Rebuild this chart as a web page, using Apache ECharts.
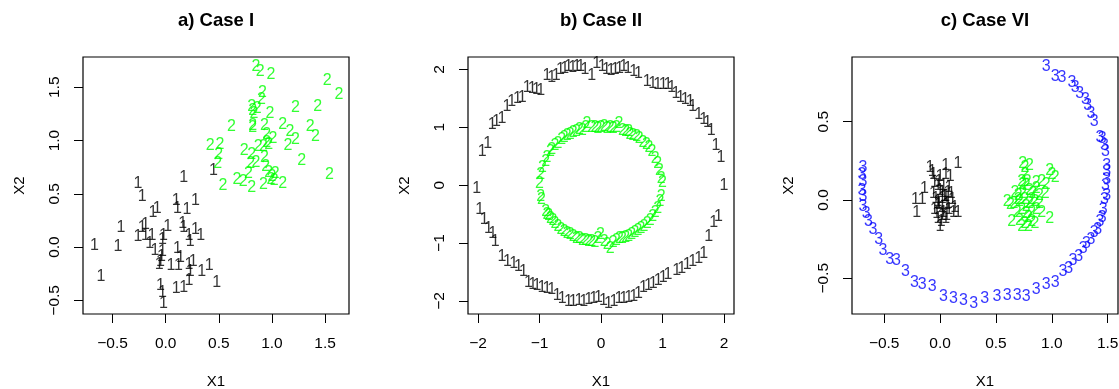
<!DOCTYPE html>
<html>
<head>
<meta charset="utf-8">
<script src="https://cdn.jsdelivr.net/npm/echarts@6/dist/echarts.min.js"></script>
<style>
  html, body { margin: 0; padding: 0; background: #fff; }
  #main { width: 1119px; height: 389px; }
</style>
</head>
<body>
<div id="main"></div>
<script>
// panel titles
const titles = ['a) Case I', 'b) Case II', 'c) Case VI'];

// tick values per panel
const ticksI_x = [-0.5, 0, 0.5, 1, 1.5];
const ticksI_y = [-0.5, 0, 0.5, 1, 1.5];
const ticksII_x = [-2, -1, 0, 1, 2];
const ticksII_y = [-2, -1, 0, 1, 2];
const ticksVI_x = [-0.5, 0, 0.5, 1, 1.5];
const ticksVI_y = [-0.5, 0, 0.5];

// a) Case I
const caseI_class1 = [
  [-0.26,0.60],[-0.22,0.47],[0.17,0.65],[0.45,0.72],[-0.12,0.32],[-0.08,0.36],[0.10,0.44],[0.11,0.36],
  [0.20,0.35],[0.28,0.44],[-0.42,0.18],[-0.67,0.01],[-0.45,0.00],[-0.61,-0.28],
  [-0.26,0.10],[-0.22,0.18],[-0.19,0.21],[-0.19,0.11],[-0.13,0.11],[-0.15,0.03],[-0.10,-0.03],
  [-0.02,0.11],[-0.03,0.07],[-0.03,-0.04],[-0.04,-0.09],[-0.05,-0.14],[-0.06,-0.16],
  [0.02,0.19],[0.11,-0.01],[0.05,-0.17],[0.12,-0.17],[0.14,-0.10],
  [0.16,0.22],[0.17,0.18],[0.22,0.11],[0.23,0.05],[0.28,0.16],[0.33,0.11],
  [0.22,-0.16],[0.23,-0.23],[0.26,-0.14],[0.34,-0.23],[0.41,-0.17],[0.48,-0.33],
  [-0.05,-0.36],[-0.03,-0.43],[-0.02,-0.53],[0.10,-0.39],[0.17,-0.38],[0.22,-0.31]
];
const caseI_class2 = [
  [0.85,1.69],[0.89,1.65],[0.99,1.62],[1.52,1.56],[1.63,1.43],[0.91,1.45],[0.90,1.38],
  [0.81,1.32],[0.82,1.28],[0.83,1.25],[0.86,1.30],[0.98,1.25],[1.22,1.31],[1.43,1.32],
  [0.62,1.13],[0.82,1.14],[0.82,1.12],[0.93,1.14],[0.95,1.06],[1.10,1.15],[1.17,1.08],
  [1.22,1.01],[1.36,1.13],[1.41,1.04],[1.01,1.02],[0.95,0.98],[1.15,0.95],
  [0.42,0.95],[0.51,0.96],[0.50,0.87],[0.49,0.78],[0.74,0.91],[0.81,0.87],[0.87,0.94],
  [0.92,0.94],[0.97,0.96],[0.93,0.84],[0.80,0.78],[0.85,0.79],[0.94,0.76],[0.78,0.69],
  [0.97,0.70],[1.00,0.66],[1.03,0.69],[0.99,0.63],[1.28,0.81],[1.54,0.68],
  [0.54,0.58],[0.67,0.63],[0.73,0.61],[0.81,0.56],[0.92,0.59],[1.02,0.62],[1.10,0.60]
];

// b) Case II
const caseII_class1 = [
  [-2.02,-0.06],[-1.93,0.58],[-1.84,0.72],[-1.77,1.04],[-1.70,1.09],[-1.61,1.15],[-1.53,1.35],
  [-1.45,1.44],[-1.36,1.50],[-1.28,1.52],[-1.20,1.69],[-1.12,1.67],[-1.05,1.65],[-0.98,1.64],
  [-0.88,1.90],[-0.80,1.86],[-0.73,1.90],[-0.66,1.99],[-0.59,2.01],[-0.53,2.04],[-0.46,2.03],
  [-0.39,2.05],[-0.33,2.04],[-0.26,2.00],[-0.15,1.90],[-0.07,2.10],[0.02,2.04],[0.09,2.00],
  [0.16,1.98],[0.23,1.99],[0.30,2.01],[0.37,2.04],[0.44,2.01],[0.53,1.96],[0.61,1.92],
  [0.75,1.78],[0.84,1.76],[0.92,1.74],[1.01,1.74],[1.09,1.73],[1.15,1.69],[1.22,1.58],
  [1.29,1.51],[1.37,1.47],[1.45,1.44],[1.49,1.35],[1.59,1.21],[1.67,1.13],[1.73,1.08],
  [1.79,0.94],[1.87,0.69],[1.95,0.48],[2.00,0.00],[1.91,-0.54],[1.83,-0.65],[1.75,-0.89],
  [1.67,-1.19],[1.59,-1.27],[1.49,-1.32],[1.40,-1.38],[1.31,-1.44],[1.23,-1.48],[1.09,-1.54],
  [1.01,-1.59],[0.93,-1.65],[0.85,-1.70],[0.77,-1.74],[0.69,-1.77],[0.61,-1.87],[0.53,-1.93],
  [0.45,-1.95],[0.37,-1.96],[0.29,-1.96],[0.21,-2.01],[0.12,-2.04],[0.04,-1.99],[-0.04,-1.95],
  [-0.12,-1.96],[-0.20,-1.97],[-0.28,-2.01],[-0.36,-1.99],[-0.45,-2.01],[-0.53,-2.01],[-0.63,-1.96],
  [-0.71,-1.90],[-0.80,-1.81],[-0.88,-1.78],[-0.96,-1.77],[-1.04,-1.74],[-1.11,-1.71],[-1.18,-1.69],
  [-1.26,-1.49],[-1.34,-1.41],[-1.42,-1.35],[-1.52,-1.32],[-1.61,-1.24],[-1.72,-0.98],[-1.76,-0.84],
  [-1.83,-0.75],[-1.90,-0.60],[-1.97,-0.43]
];
const caseII_class2 = [
  [0.62,0.80],[0.68,0.74],[0.74,0.70],[0.58,0.83],[0.52,0.86],[0.47,0.88],[0.40,0.92],[0.35,0.95],
  [0.29,1.06],[0.25,0.99],[0.20,0.97],[0.15,1.00],[0.10,0.98],[0.05,1.01],[0.00,0.99],[-0.05,0.97],
  [-0.10,1.00],[-0.15,0.99],[-0.23,1.06],[-0.25,1.00],[-0.30,0.95],[-0.35,0.96],[-0.40,0.93],
  [-0.45,0.90],[-0.50,0.88],[-0.55,0.85],[-0.60,0.82],[-0.64,0.78],[-0.70,0.72],[-0.75,0.68],
  [-0.80,0.62],[0.78,0.65],[0.83,0.58],[-0.82,0.58],[0.45,0.93],
  [-0.88,0.47],[-0.90,0.40],[-0.95,0.30],[-0.98,0.18],[-1.00,0.02],[-0.98,-0.20],[-0.97,-0.25],
  [-0.90,-0.45],[-0.88,-0.50],
  [0.88,0.45],[0.92,0.38],[0.95,0.25],[0.98,0.12],[1.00,0.05],[0.98,-0.20],[0.96,-0.28],
  [0.92,-0.40],[0.88,-0.48],
  [-0.85,-0.52],[-0.82,-0.57],[-0.78,-0.62],[-0.75,-0.66],[-0.70,-0.72],[-0.65,-0.76],[-0.60,-0.80],
  [-0.55,-0.83],[-0.50,-0.86],[-0.45,-0.88],[-0.40,-0.92],[-0.35,-0.93],[-0.30,-0.95],[-0.25,-0.96],
  [-0.20,-0.98],[-0.15,-0.97],[-0.10,-0.99],[-0.05,-0.93],[-0.01,-0.86],[0.05,-0.98],[0.10,-1.02],
  [0.15,-1.09],[0.20,-1.00],[0.25,-0.96],[0.30,-0.93],[0.35,-0.92],[0.40,-0.90],[0.45,-0.88],
  [0.50,-0.85],[0.55,-0.82],[0.60,-0.78],[0.65,-0.75],[0.70,-0.72],[0.75,-0.67],[0.80,-0.62],
  [0.84,-0.55]
];

// c) Case VI
const caseVI_class1 = [
  [-0.09,0.21],[-0.07,0.18],[-0.06,0.16],[0.05,0.22],[0.16,0.23],[0.00,0.15],[0.05,0.16],[0.09,0.15],
  [-0.05,0.11],[-0.02,0.09],[0.00,0.06],[0.02,0.05],[-0.14,0.07],[-0.22,0.00],[-0.16,0.00],
  [-0.21,-0.08],[-0.06,0.04],[-0.04,0.01],[-0.02,-0.01],[0.02,0.01],[0.05,0.02],[0.07,0.05],
  [0.08,0.08],[0.10,0.04],[0.11,0.00],[-0.01,-0.03],[0.02,-0.05],[0.03,-0.08],[0.06,-0.03],
  [0.08,-0.06],[0.12,-0.08],[0.13,-0.05],[0.16,-0.08],[-0.02,-0.12],[0.01,-0.14],[0.05,-0.12],
  [0.06,-0.10],[-0.03,-0.09],[-0.05,-0.06],[-0.01,0.12],[0.03,0.09],[0.07,-0.02],[0.02,-0.10],
  [-0.02,-0.02],[0.04,0.02],[0.00,-0.17]
];
const caseVI_class2 = [
  [0.74,0.23],[0.76,0.21],[0.80,0.22],[0.98,0.19],[1.00,0.16],[1.03,0.14],[0.76,0.16],
  [0.86,0.11],[0.91,0.12],[0.95,0.10],[0.73,0.12],[0.74,0.10],[0.77,0.09],[0.80,0.06],
  [0.83,0.04],[0.89,0.03],[0.94,0.04],[0.67,0.05],[0.70,0.03],[0.74,0.04],[0.60,-0.01],
  [0.63,-0.03],[0.66,-0.02],[0.71,-0.01],[0.76,0.00],[0.80,-0.02],[0.85,-0.01],[0.89,-0.02],
  [0.86,-0.06],[0.91,-0.08],[0.98,-0.12],[0.69,-0.08],[0.73,-0.06],[0.77,-0.09],[0.82,-0.08],
  [0.64,-0.14],[0.71,-0.13],[0.76,-0.15],[0.82,-0.14],[0.73,-0.17],[0.79,-0.17],[0.85,-0.15],
  [0.78,0.12],[0.82,0.00],[0.77,-0.04],[0.86,0.07],[0.70,0.00],[0.79,-0.11]
];
const caseVI_class3 = [
  [0.95,0.85],[1.03,0.79],[1.09,0.78],[1.18,0.75],[1.21,0.72],[1.25,0.68],[1.30,0.64],[1.32,0.60],
  [1.35,0.55],[1.38,0.50],[1.43,0.40],[1.45,0.39],[1.47,0.35],[1.48,0.31],[1.49,0.22],[1.49,0.18],
  [1.49,0.13],[1.48,0.09],[1.49,0.03],[1.47,0.00],[1.46,-0.06],[1.45,-0.11],[1.43,-0.14],[1.41,-0.19],
  [1.38,-0.21],[1.35,-0.25],[1.31,-0.28],[1.28,-0.31],[1.24,-0.36],[1.19,-0.39],[1.15,-0.44],
  [1.10,-0.46],[1.03,-0.53],[0.95,-0.54],[0.86,-0.57],[0.77,-0.62],[0.69,-0.61],[0.60,-0.61],
  [0.51,-0.62],[0.40,-0.63],[0.30,-0.66],[0.21,-0.64],[0.12,-0.63],[0.03,-0.62],[-0.07,-0.55],
  [-0.16,-0.54],[-0.23,-0.53],[-0.31,-0.46],[-0.39,-0.39],[-0.45,-0.38],[-0.51,-0.32],[-0.55,-0.25],
  [-0.60,-0.19],[-0.64,-0.14],[-0.66,-0.09],[-0.69,-0.04],[-0.69,0.02],[-0.70,0.06],[-0.69,0.12],
  [-0.70,0.16],[-0.69,0.21]
];

const FONT = 'Liberation Sans, Arial, Helvetica, sans-serif';
const GREEN = '#00ff00';
const BLUE = '#0000ff';

const panels = [
  { left: 83, xMin: -0.778, xMax: 1.725, yMin: -0.628, yMax: 1.784, xt: ticksI_x, yt: ticksI_y, dec: 1 },
  { left: 468, xMin: -2.162, xMax: 2.162, yMin: -2.225, yMax: 2.213, xt: ticksII_x, yt: ticksII_y, dec: 0 },
  { left: 852, xMin: -0.788, xMax: 1.592, yMin: -0.728, yMax: 0.913, xt: ticksVI_x, yt: ticksVI_y, dec: 1 }
];

const fmt = dec => v => (v < 0 ? '\u2212' : '') + Math.abs(v).toFixed(dec);

const textSeries = (idx, data, txt, color) => ({
  type: 'scatter',
  xAxisIndex: idx,
  yAxisIndex: idx,
  data: data,
  symbol: 'circle',
  symbolSize: 1,
  silent: true,
  itemStyle: { color: 'rgba(0,0,0,0)' },
  label: {
    show: true,
    position: 'inside',
    formatter: txt,
    color: color,
    fontSize: 16,
    fontFamily: FONT
  }
});

const chart = echarts.init(document.getElementById('main'), null, { renderer: 'canvas' });

chart.setOption({
  animation: false,
  backgroundColor: '#fff',
  title: titles.map((t, i) => ({
    text: t,
    left: panels[i].left + 128,
    top: 6,
    textAlign: 'center',
    textStyle: { fontSize: 18.5, fontWeight: 'bold', color: '#000', fontFamily: FONT }
  })),
  grid: panels.map(p => ({
    left: p.left, top: 57, width: 266, height: 257,
    show: true, borderColor: '#000', borderWidth: 1.2, backgroundColor: 'transparent',
    containLabel: false, outerBoundsMode: 'none'
  })),
  xAxis: panels.map((p, i) => ({
    gridIndex: i, type: 'value', min: p.xMin, max: p.xMax,
    axisLine: { show: false, onZero: false },
    splitLine: { show: false },
    axisTick: { show: true, length: 9, customValues: p.xt, lineStyle: { color: '#000', width: 1 } },
    axisLabel: { customValues: p.xt, formatter: fmt(p.dec), color: '#000', fontSize: 15.5, fontFamily: FONT, margin: 22 },
    name: 'X1', nameLocation: 'middle', nameGap: 60,
    nameTextStyle: { color: '#000', fontSize: 15, fontFamily: FONT }
  })),
  yAxis: panels.map((p, i) => ({
    gridIndex: i, type: 'value', min: p.yMin, max: p.yMax,
    axisLine: { show: false, onZero: false },
    splitLine: { show: false },
    axisTick: { show: true, length: 9, customValues: p.yt, lineStyle: { color: '#000', width: 1 } },
    axisLabel: { customValues: p.yt, formatter: fmt(p.dec), color: '#000', fontSize: 15.5, fontFamily: FONT, margin: 20, rotate: 90 },
    name: 'X2', nameLocation: 'middle', nameGap: 56, nameRotate: 90,
    nameTextStyle: { color: '#000', fontSize: 15, fontFamily: FONT }
  })),
  series: [
    textSeries(0, caseI_class1, '1', '#000'),
    textSeries(0, caseI_class2, '2', GREEN),
    textSeries(1, caseII_class1, '1', '#000'),
    textSeries(1, caseII_class2, '2', GREEN),
    textSeries(2, caseVI_class1, '1', '#000'),
    textSeries(2, caseVI_class2, '2', GREEN),
    textSeries(2, caseVI_class3, '3', BLUE)
  ]
});
</script>
</body>
</html>
